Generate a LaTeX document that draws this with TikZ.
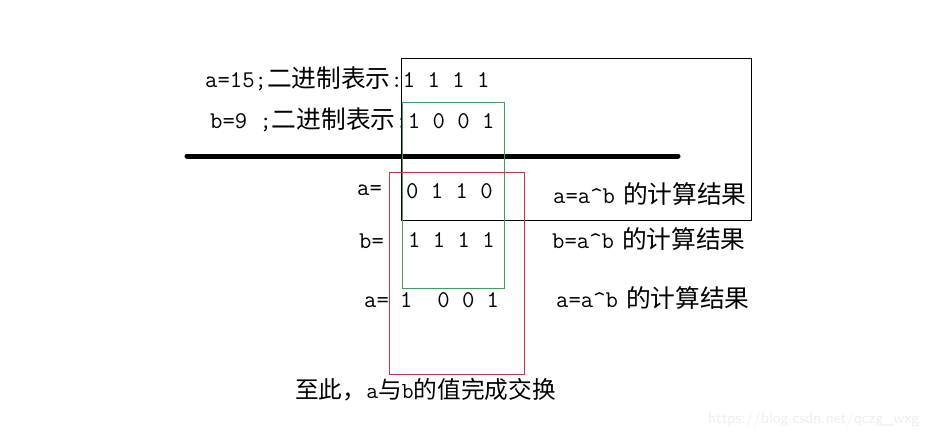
\documentclass[tikz,border=0pt]{standalone}
\usepackage{fontspec}
\usepackage{tikz}
\usetikzlibrary{positioning}
\newfontfamily\cjk[Scale=1.03]{Noto Sans CJK SC}
\definecolor{swapgreen}{HTML}{3E9E5C}
\definecolor{swapred}{HTML}{C23A3E}
\definecolor{markgray}{HTML}{EEEEEE}

\begin{document}
\begin{tikzpicture}[
    x=1pt, y=-1pt,
    txt/.style={anchor=base west, inner sep=0pt, font=\fontsize{24}{28}\selectfont\ttfamily},
    frame/.style={draw=#1, line width=1pt},
]
\useasboundingbox[fill=white] (0,0) rectangle (933,434);

% the two numbers
\node[txt] (aval) at (205,87) {a=15;{\cjk 二进制表示}:1 1 1 1};
\node[txt] (bval) at (210,128) {b=9 ;{\cjk 二进制表示}:1 0 0 1};

\draw[line width=5pt, line cap=round] (187,156) -- (678,156);

% three xor steps
\node[txt] (stepa) at (357,195) {a=};
\node[txt] (bitsa) at (406,198) {0 1 1 0};
\node[txt] (notea) at (553,203) {a=a\textasciicircum b\hspace{8pt}{\cjk 的计算结果}};

\node[txt] (stepb) at (359,248) {b=};
\node[txt] (bitsb) at (408,247) {1 1 1 1};
\node[txt] (noteb) at (552,248) {b=a\textasciicircum b\hspace{8pt}{\cjk 的计算结果}};

\node[txt] (stepc) at (364,307) {a=};
\node[txt] (bitsc) at (400,307) {1\ \ 0 0 1};
\node[txt] (notec) at (556,307) {a=a\textasciicircum b\hspace{8pt}{\cjk 的计算结果}};

\node[txt, font=\fontsize{23}{27}\selectfont\ttfamily] (done) at (295,398) {{\cjk 至此，}a{\cjk 与}b{\cjk 的值完成交换}};

% frames
\draw[frame=black] (401,58) rectangle (751,220);
\draw[frame=swapgreen] (402,102) rectangle (504,288);
\draw[frame=swapred] (389,172) rectangle (524,374);

\node[anchor=base west, inner sep=0pt, font=\fontsize{16.5}{18}\selectfont\sffamily, text=markgray] (mark) at (708,423) {https://blog.csdn.net/qczg\_wxg};
\end{tikzpicture}
\end{document}
